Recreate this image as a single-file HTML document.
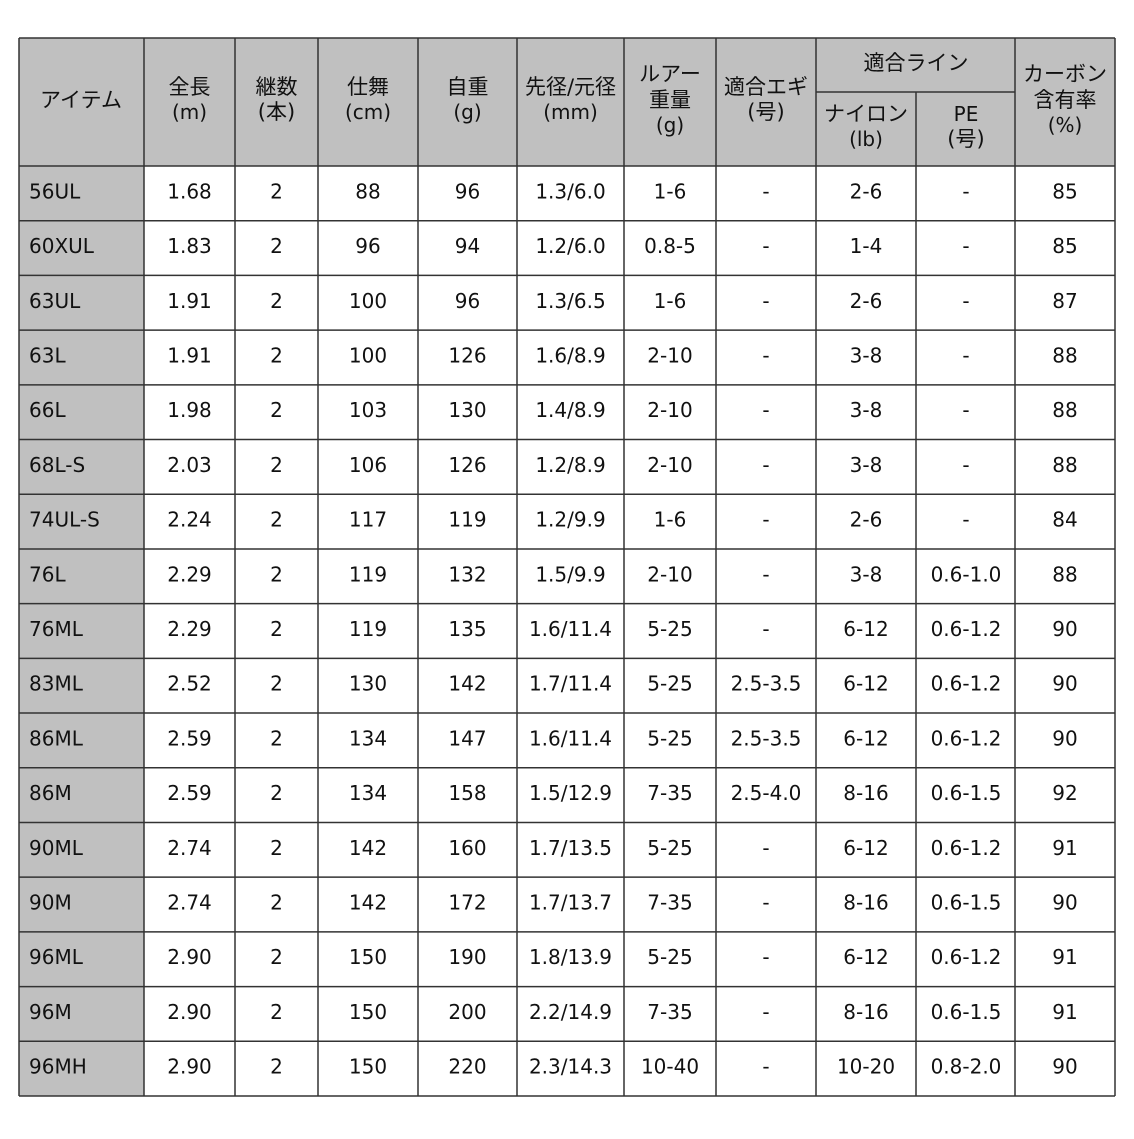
<!DOCTYPE html>
<html><head><meta charset="utf-8"><style>
html,body{margin:0;padding:0;background:#fff;}
svg text{font-family:"DejaVu Sans","Noto Sans CJK JP",sans-serif;font-size:20px;fill:#111;}
svg text.h{font-size:21px;}
</style></head><body>
<svg width="1134" height="1134" xmlns="http://www.w3.org/2000/svg">
<rect x="0" y="0" width="1134" height="1134" fill="#fff"/>
<rect x="19" y="38" width="1096" height="128" fill="#c0c0c0"/>
<rect x="19" y="166" width="125" height="930" fill="#c0c0c0"/>
<g stroke="#333" stroke-width="1.5">
<line x1="19" y1="38" x2="1115" y2="38"/>
<line x1="816" y1="92" x2="1015" y2="92"/>
<line x1="19" y1="166" x2="1115" y2="166"/>
<line x1="19" y1="38" x2="19" y2="1096"/>
<line x1="144" y1="38" x2="144" y2="1096"/>
<line x1="235" y1="38" x2="235" y2="1096"/>
<line x1="318" y1="38" x2="318" y2="1096"/>
<line x1="418" y1="38" x2="418" y2="1096"/>
<line x1="517" y1="38" x2="517" y2="1096"/>
<line x1="624" y1="38" x2="624" y2="1096"/>
<line x1="716" y1="38" x2="716" y2="1096"/>
<line x1="816" y1="38" x2="816" y2="1096"/>
<line x1="916" y1="92" x2="916" y2="1096"/>
<line x1="1015" y1="38" x2="1015" y2="1096"/>
<line x1="1115" y1="38" x2="1115" y2="1096"/>
</g>
<g id="rl" stroke="#333" stroke-width="1.5"></g>
<g text-anchor="middle">
<text class="h" x="81" y="107">アイテム</text>
<text class="h" x="189.5" y="94">全長</text><text x="189.5" y="119">(m)</text>
<text class="h" x="276.5" y="94">継数</text><text class="h" x="276.5" y="119">(本)</text>
<text class="h" x="368" y="94">仕舞</text><text x="368" y="119">(cm)</text>
<text class="h" x="467.5" y="94">自重</text><text x="467.5" y="119">(g)</text>
<text class="h" x="570.5" y="94">先径/元径</text><text x="570.5" y="119">(mm)</text>
<text class="h" x="670" y="81">ルアー</text><text class="h" x="670" y="107">重量</text><text x="670" y="132">(g)</text>
<text class="h" x="766" y="94">適合エギ</text><text class="h" x="766" y="119">(号)</text>
<text class="h" x="916" y="70">適合ライン</text>
<text class="h" x="866" y="121">ナイロン</text><text x="866" y="146">(lb)</text>
<text x="966" y="121">PE</text><text class="h" x="966" y="146">(号)</text>
<text class="h" x="1065" y="81">カーボン</text><text class="h" x="1065" y="107">含有率</text><text x="1065" y="132">(%)</text>
</g>
<g id="rows"></g>
<script>
var d=[
["56UL","1.68","2","88","96","1.3/6.0","1-6","-","2-6","-","85"],
["60XUL","1.83","2","96","94","1.2/6.0","0.8-5","-","1-4","-","85"],
["63UL","1.91","2","100","96","1.3/6.5","1-6","-","2-6","-","87"],
["63L","1.91","2","100","126","1.6/8.9","2-10","-","3-8","-","88"],
["66L","1.98","2","103","130","1.4/8.9","2-10","-","3-8","-","88"],
["68L-S","2.03","2","106","126","1.2/8.9","2-10","-","3-8","-","88"],
["74UL-S","2.24","2","117","119","1.2/9.9","1-6","-","2-6","-","84"],
["76L","2.29","2","119","132","1.5/9.9","2-10","-","3-8","0.6-1.0","88"],
["76ML","2.29","2","119","135","1.6/11.4","5-25","-","6-12","0.6-1.2","90"],
["83ML","2.52","2","130","142","1.7/11.4","5-25","2.5-3.5","6-12","0.6-1.2","90"],
["86ML","2.59","2","134","147","1.6/11.4","5-25","2.5-3.5","6-12","0.6-1.2","90"],
["86M","2.59","2","134","158","1.5/12.9","7-35","2.5-4.0","8-16","0.6-1.5","92"],
["90ML","2.74","2","142","160","1.7/13.5","5-25","-","6-12","0.6-1.2","91"],
["90M","2.74","2","142","172","1.7/13.7","7-35","-","8-16","0.6-1.5","90"],
["96ML","2.90","2","150","190","1.8/13.9","5-25","-","6-12","0.6-1.2","91"],
["96M","2.90","2","150","200","2.2/14.9","7-35","-","8-16","0.6-1.5","91"],
["96MH","2.90","2","150","220","2.3/14.3","10-40","-","10-20","0.8-2.0","90"]];
var cx=[29,189.5,276.5,368,467.5,570.5,670,766,866,966,1065];
var ns="http://www.w3.org/2000/svg",g=document.getElementById("rows"),rl=document.getElementById("rl");
var h=930/17;
for(var i=0;i<17;i++){
 var y1=166+h*(i+1);
 var l=document.createElementNS(ns,"line");l.setAttribute("x1",19);l.setAttribute("x2",1115);l.setAttribute("y1",y1);l.setAttribute("y2",y1);rl.appendChild(l);
 var cy=166+h*(i+0.5)+5;
 for(var j=0;j<11;j++){
  var t=document.createElementNS(ns,"text");t.setAttribute("x",cx[j]);t.setAttribute("y",cy);
  t.setAttribute("text-anchor",j==0?"start":"middle");t.textContent=d[i][j];g.appendChild(t);
 }
}
</script>
</svg>
</body></html>
